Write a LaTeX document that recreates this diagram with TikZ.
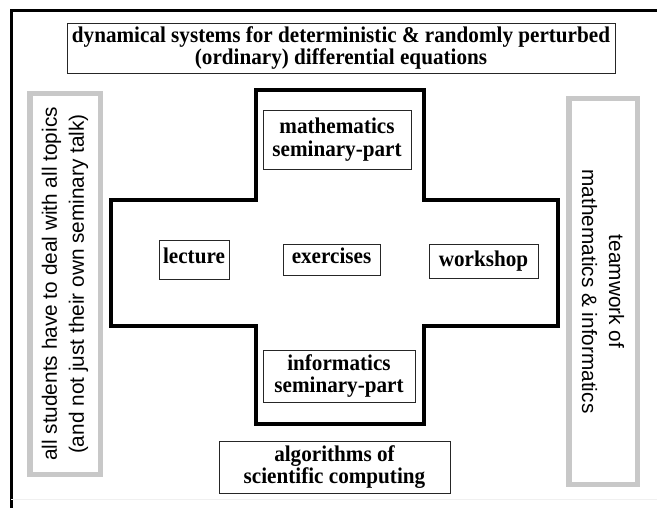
\documentclass[tikz,border=0pt]{standalone}
\usepackage{fontspec}
\setmainfont{Liberation Serif}
\setsansfont{Liberation Sans}
\newfontfamily\boxfont[FakeStretch=0.94]{Liberation Serif}
\definecolor{framegray}{RGB}{200,200,200}

\begin{document}
\begin{tikzpicture}[x=1pt,y=-1pt,
  box/.style={draw=black!85,line width=0.9pt,inner sep=0pt,align=center,font=\fontsize{22.5}{22.5}\selectfont\boxfont\bfseries},
  lifted/.style={text depth=8pt},
  side/.style={draw=framegray,line width=5.5pt,inner sep=0pt,align=center,font=\fontsize{20.8}{27}\selectfont\sffamily}]
  \useasboundingbox (0,0) rectangle (657,508);
  \draw[line width=3pt] (11,508) -- (11,11) -- (657,11);
  \draw[black!6,line width=1pt] (11,499) -- (657,499);
  \draw[line width=3.5pt] (256,90) -- (424,90) -- (424,200) -- (558,200) -- (558,326) -- (424,326) -- (424,424) -- (256,424) -- (256,326) -- (111,326) -- (111,200) -- (256,200) -- cycle;
  \node[box,minimum width=548pt,minimum height=50pt] (odes) at (341,48) {dynamical systems for deterministic \& randomly perturbed\\(ordinary) differential equations};
  \node[box,minimum width=148pt,minimum height=59pt] (math) at (337,139.5) {mathematics\\seminary-part};
  \node[box,lifted,minimum width=70pt,minimum height=39pt] (lecture) at (194,259.5) {lecture};
  \node[box,lifted,minimum width=97pt,minimum height=31pt] (exercises) at (331.5,259.5) {exercises};
  \node[box,minimum width=109pt,minimum height=34pt] (workshop) at (483.5,261) {workshop};
  \node[box,minimum width=152pt,minimum height=52pt] (info) at (339,376) {informatics\\seminary-part};
  \node[box,minimum width=231pt,minimum height=52pt] (algo) at (334.5,467) {algorithms of\\scientific computing};
  \node[side,rotate=90,minimum width=380.5pt,minimum height=70.5pt] (students) at (65,284) {all students have to deal with all topics\\(and not just their own seminary talk)};
  \node[side,rotate=-90,minimum width=385.5pt,minimum height=68.5pt] (teamwork) at (603,291.5) {teamwork of\\mathematics \& informatics};
\end{tikzpicture}
\end{document}
